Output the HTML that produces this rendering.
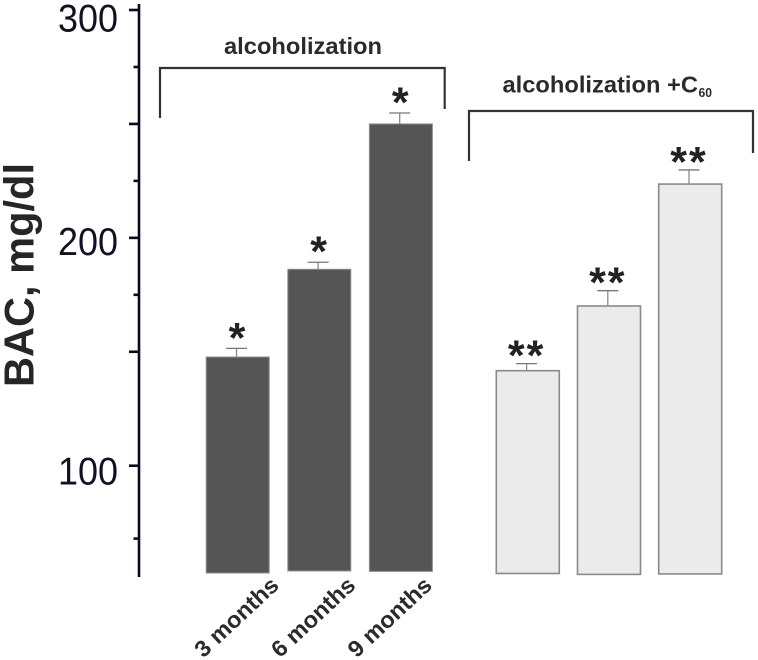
<!DOCTYPE html>
<html lang="en">
<head>
<meta charset="utf-8">
<title>BAC chart</title>
<style>
html,body{margin:0;padding:0;background:#fff;width:758px;height:660px;overflow:hidden}
svg{display:block;filter:blur(0.35px)}
text{font-family:"Liberation Sans",Arial,sans-serif}
</style>
</head>
<body>
<svg id="chart" width="758" height="660" viewBox="0 0 758 660" xmlns="http://www.w3.org/2000/svg">
  <rect width="758" height="660" fill="#fff"/>
  <text transform="translate(33.5,387) rotate(-90)" font-size="42" font-weight="bold" fill="#262626" textLength="224" lengthAdjust="spacingAndGlyphs">BAC, mg/dl</text>
  <path d="M160 118V68H444.7V109" fill="none" stroke="#333" stroke-width="2.2"/>
  <path d="M469 161V111H753V153" fill="none" stroke="#333" stroke-width="2.2"/>
  <text x="224" y="54" font-size="23" font-weight="bold" fill="#2b2b2b" textLength="158" lengthAdjust="spacingAndGlyphs">alcoholization</text>
  <text x="502.5" y="92.5" font-size="23" font-weight="bold" fill="#2b2b2b" textLength="195.5" lengthAdjust="spacingAndGlyphs">alcoholization +C</text>
  <text x="698.5" y="97" font-size="12.5" font-weight="bold" fill="#2b2b2b" textLength="13.5" lengthAdjust="spacingAndGlyphs">60</text>
</svg>
<script>
// Chart data
const categories = ["3 months", "6 months", "9 months"];
const alcoholValues = [147.7, 186.2, 250];
const alcoholErrors = [3.8, 3.1, 4.8];
const alcoholBases = [52.9, 53.8, 53.6];
const c60Values = [141.7, 170.1, 223.6];
const c60Errors = [3.1, 6.7, 6.2];
const c60Bases = [52.7, 52.3, 52.5];
const majorTicks = [300, 250, 200, 150, 100];
const minorTicks = [275, 225, 175, 68];
const tickLabels = [300, 200, 100];

// Axis functions
function y(v) { return 465.7 - (v - 100) * 2.2785; }
function barLeft(group, i) { return group === 0 ? 206.2 + 81.6 * i : 496.3 + 81.2 * i; }

const BAR_W = 63;
const svg = document.getElementById('chart');
const NS = 'http://www.w3.org/2000/svg';

function make(tag, attrs, txt) {
  const el = document.createElementNS(NS, tag);
  for (const k in attrs) el.setAttribute(k, attrs[k]);
  if (txt !== undefined) el.textContent = txt;
  svg.appendChild(el);
  return el;
}

// Y axis
const axisLine = make('line', { x1: 139, x2: 139, y1: 4, y2: 577, stroke: '#0d0820', 'stroke-width': 2.6 });



majorTicks.forEach(function (t) {
  const tick = make('line', { x1: 129, x2: 139, y1: y(t), y2: y(t), stroke: '#0d0820', 'stroke-width': 2.6 });
  
  
});
minorTicks.forEach(function (t) {
  const tick = make('line', { x1: 133.5, x2: 139, y1: y(t), y2: y(t), stroke: '#0d0820', 'stroke-width': 2.6 });
  
  
});

const labelNudge = { 300: 21.5, 200: 17, 100: 19 };
tickLabels.forEach(function (t) {
  const label = make('text', {
    x: 58, y: y(t) + labelNudge[t], 'font-size': 39, fill: '#141022',
    textLength: 60, lengthAdjust: 'spacingAndGlyphs'
  }, String(t));
  
  
});

// Bars and error bars
function drawGroup(group, values, errors, bases, fill, stroke, stars, starLift, starShift) {
  values.forEach(function (v, i) {
    const left = barLeft(group, i);
    const bar = make('rect', {
      x: left, y: y(v), width: BAR_W, height: y(bases[i]) - y(v),
      fill: fill, stroke: stroke, 'stroke-width': group === 0 ? 1 : 1.6
    });
    
    

    const cx = left + BAR_W / 2 - 1.2;
    const errTop = y(v + errors[i]);
    const stem = make('line', { x1: cx, x2: cx, y1: y(v), y2: errTop, stroke: '#8a8a8a', 'stroke-width': 1.3 });
    
    
    const cap = make('line', { x1: cx - 10.5, x2: cx + 10.5, y1: errTop, y2: errTop, stroke: '#777', 'stroke-width': 1.3 });
    
    

    const star = make('text', {
      x: cx + starShift, y: errTop - starLift + 26, 'font-size': 43, 'font-weight': 'bold', fill: '#222',
      'text-anchor': 'middle', 'letter-spacing': group === 0 ? 0 : 2
    }, stars);
    
    
  });
}
drawGroup(0, alcoholValues, alcoholErrors, alcoholBases, '#555555', '#8f8f8f', '*', 22, 0.5);
drawGroup(1, c60Values, c60Errors, c60Bases, '#ebebeb', '#8a8a8a', '**', 19.5, 0);

// Category labels
const labelShift = [11, 6, 1];
categories.forEach(function (c, i) {
  const ax = barLeft(0, i) + BAR_W + labelShift[i];
  const label = make('text', {
    transform: 'translate(' + ax + ',587) rotate(-43)',
    'font-size': 23, 'font-weight': 'bold', fill: '#2b2b2b', 'text-anchor': 'end',
    textLength: 105, lengthAdjust: 'spacingAndGlyphs'
  }, c);
  
  
});
</script>
</body>
</html>
